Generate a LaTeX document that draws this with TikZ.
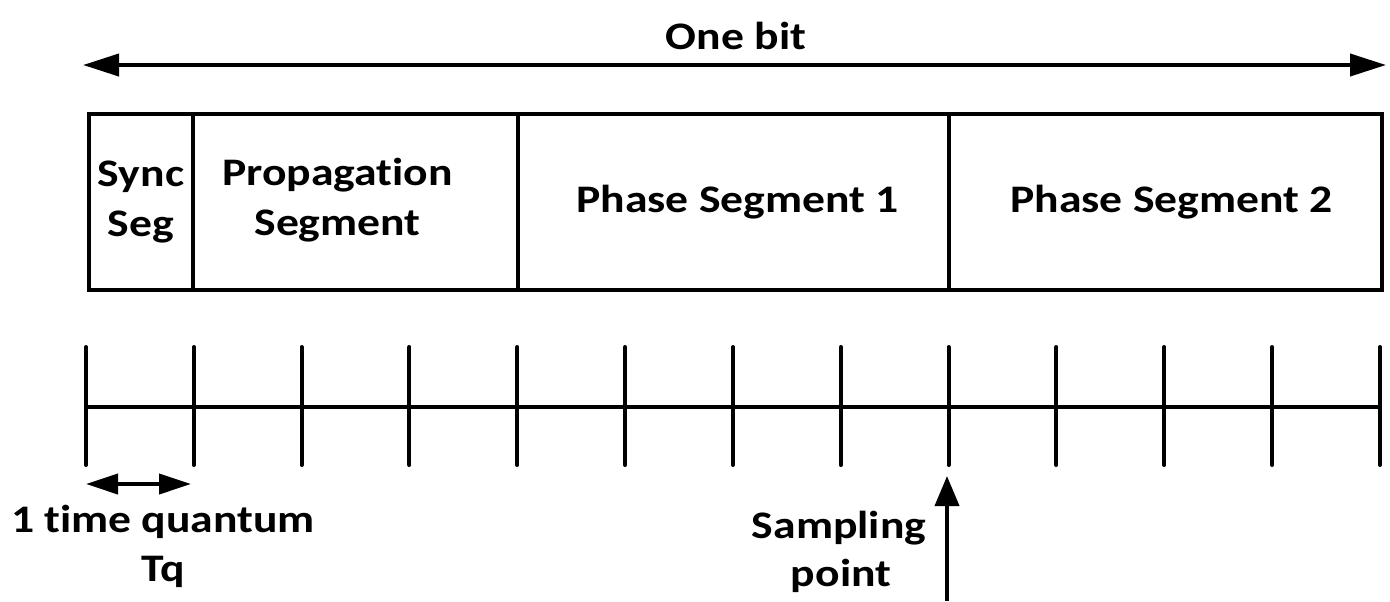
\documentclass[tikz,border=0pt]{standalone}
\usepackage{fontspec}
\setmainfont{Carlito}[Ligatures=NoCommon, FakeStretch=1.17]
\usetikzlibrary{arrows.meta}
\begin{document}
\begin{tikzpicture}[x=0.5pt,y=-0.5pt,
  lbl/.style={font=\bfseries\fontsize{19.5}{25}\selectfont, align=center, inner sep=0pt},
  seg/.style={draw, line width=2pt, rectangle, inner sep=0pt, minimum height=88pt, anchor=north west},
  tick/.style={line width=2pt, line cap=round},
  axis/.style={line width=2pt},
  bigarr/.style={line width=2pt, {Triangle[length=18pt,width=11pt]}-{Triangle[length=18pt,width=11pt]}},
  tqarr/.style={line width=2pt, {Triangle[length=16pt,width=10pt]}-{Triangle[length=16pt,width=10pt]}},
  samparr/.style={line width=2pt, -{Triangle[length=15pt,width=12pt]}}]
\useasboundingbox (0,0) rectangle (1390,601);
% one bit arrow
\coordinate (bl) at (83,65);
\coordinate (br) at (1386,65);
\draw[bigarr] (bl) -- (br);
\node[lbl] (onebit) at (736,36) {One bit};
% segments
\node[seg, minimum width=52pt] (sync) at (87,112) {};
\node[seg, minimum width=162.5pt] (prop) at (191,112) {};
\node[seg, minimum width=215.5pt] (ps1) at (516,112) {};
\node[seg, minimum width=216.5pt] (ps2) at (947,112) {};
\node[lbl] (synct) at (sync.center) {Sync\\Seg};
\node[lbl] (propt) at ([xshift=-9pt,yshift=1pt]prop.center) {Propagation\\Segment};
\node[lbl] (ps1t) at ([xshift=2pt]ps1.center) {Phase Segment 1};
\node[lbl] (ps2t) at ([xshift=3pt]ps2.center) {Phase Segment 2};
% time axis
\foreach \i in {0,...,12} {
  \coordinate (t\i) at ({86+\i*107.83},407);
  \draw[tick] ([yshift=30pt]t\i) -- ([yshift=-29pt]t\i);
}
\draw[axis] (t0) -- (t12);
% time quantum
\coordinate (q0) at (86,484);
\coordinate (q1) at (191,484);
\draw[tqarr] (q0) -- (q1);
\node[lbl] (tq) at (163,522) {1 time quantum};
\node[lbl] (tq2) at (163,572) {Tq};
% sampling point
\coordinate (sb) at (947,601);
\coordinate (st) at (947,476);
\draw[samparr] (sb) -- (st);
\node[lbl] (samp) at (839,528) {Sampling};
\node[lbl] (pt) at (841,576) {point};
\end{tikzpicture}
\end{document}
